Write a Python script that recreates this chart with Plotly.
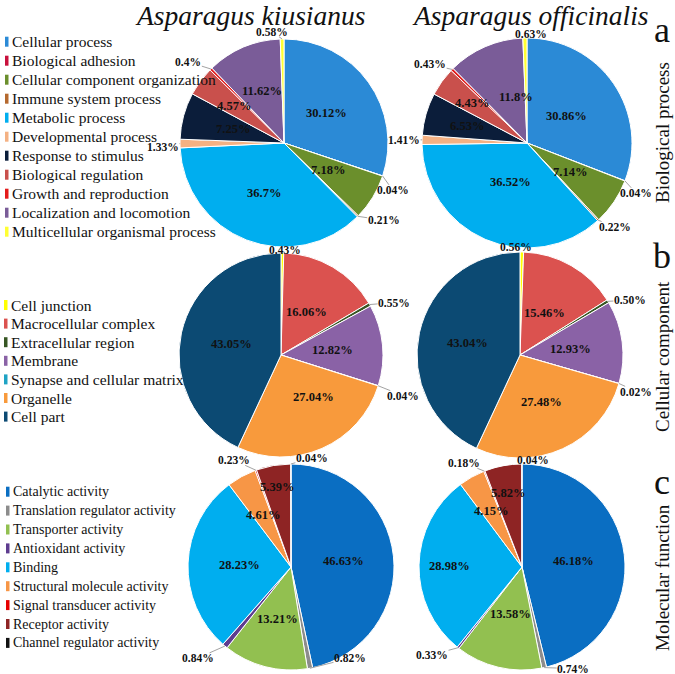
import math
import plotly.graph_objects as go

W, H = 675, 674
SERIF = "Liberation Serif"

# ---------------- data ----------------
species = ["Asparagus kiusianus", "Asparagus officinalis"]
panel_titles = ["Biological process", "Cellular component", "Molecular function"]
panel_letters = ["a", "b", "c"]

bp_labels = ["Cellular process", "Biological adhesion", "Cellular component organization",
             "Immune system process", "Metabolic process", "Developmental process",
             "Response to stimulus", "Biological regulation", "Growth and reproduction",
             "Localization and locomotion", "Multicellular organismal process"]
bp_kiusianus = [30.12, 0.04, 7.18, 0.21, 36.7, 1.33, 7.25, 4.57, 0.4, 11.62, 0.58]
bp_officinalis = [30.86, 0.04, 7.14, 0.22, 36.52, 1.41, 6.53, 4.43, 0.43, 11.8, 0.63]

cc_labels = ["Cell junction", "Macrocellular complex", "Extracellular region", "Membrane",
             "Synapse and cellular matrix", "Organelle", "Cell part"]
cc_kiusianus = [0.43, 16.06, 0.55, 12.82, 0.04, 27.04, 43.05]
cc_officinalis = [0.56, 15.46, 0.50, 12.93, 0.02, 27.48, 43.04]

mf_labels = ["Catalytic activity", "Translation regulator activity", "Transporter activity",
             "Antioxidant activity", "Binding", "Structural molecule activity",
             "Signal transducer activity", "Receptor activity", "Channel regulator activity"]
mf_kiusianus = [46.63, 0.82, 13.21, 0.84, 28.23, 4.61, 0.23, 5.39, 0.04]
mf_officinalis = [46.18, 0.74, 13.58, 0.33, 28.98, 4.15, 0.18, 5.82, 0.04]

# ---------------- styles ----------------
bp_colors = ["#2B8AD6", "#C8103C", "#6B8F2C", "#B5692E", "#00AEEF", "#F4B183",
             "#0B1D3A", "#C9504C", "#E41B1B", "#7A5C98", "#FFFF33"]
cc_colors = ["#FFFF00", "#DB524F", "#375623", "#8A62A6", "#1FA3C4", "#F89A3C", "#0C4A73"]
mf_colors = ["#0A6EC2", "#8C8C8C", "#92C050", "#5E3C8F", "#00AEEF", "#F79646",
             "#E60000", "#8E2424", "#111111"]

# label style per slice: (radial factor, dx px, dy px); factor >= 1 -> outside label
bp_k_style = [(0.50, 0, 0), (1, 10, 14), (0.50, 0, 0), (1, 26, 4), (0.52, 0, 0), (1, -17, 3),
              (0.51, 0, 0), (0.60, 0, 0), (1, -22.5, -7), (0.54, 0, 0), (1, -10, -7.5)]
bp_o_style = [(0.46, 0, 0), (1, 11, 12), (0.49, 0, 0), (1, 17, 6.5), (0.40, 0, 0), (1, -18, 0),
              (0.59, 0, 0), (0.65, 0, 0), (1, -22, -5), (0.45, 8, -3), (1, 6, -4)]
cc_k_style = [(1, 3, -3), (0.49, 0, 0), (1, 24.5, -2), (0.51, 0, 0), (1, 25, 10),
              (0.52, 11, -7), (0.50, 0, 0)]
cc_o_style = [(1, -6, -5), (0.47, 0, 0), (1, 22, -1), (0.49, 0, 0), (1, 17.5, 8),
              (0.50, 0, 0), (0.52, 0, 0)]
mf_k_style = [(0.51, 0, 0), (1, 40, -10), (0.52, 0, 0), (1, -27, 12), (0.50, 0, 0),
              (0.57, 0, 0), (1, -22, -10), (0.79, 0, 0), (1, 21, -6)]
mf_o_style = [(0.50, 0, 0), (1, 29, 1), (0.47, 0, 0), (1, -26, 7), (0.70, 0, 0),
              (0.62, 0, 0), (1, -20, -8), (0.73, 0, 0), (1, 11, -4)]

panels = [
    dict(labels=bp_labels, values=[bp_kiusianus, bp_officinalis], colors=bp_colors,
         fmt="{:g}%", geom=[(284, 143, 104), (527, 143, 105)], styles=[bp_k_style, bp_o_style],
         leg_x=10, leg_y0=41.7, leg_step=19, leg_fs=15.5, side_y=133, letter_y=30),
    dict(labels=cc_labels, values=[cc_kiusianus, cc_officinalis], colors=cc_colors,
         fmt="{:.2f}%", geom=[(281, 355, 102), (520, 355, 103)], styles=[cc_k_style, cc_o_style],
         leg_x=9, leg_y0=305, leg_step=18.6, leg_fs=15.5, side_y=357, letter_y=256),
    dict(labels=mf_labels, values=[mf_kiusianus, mf_officinalis], colors=mf_colors,
         fmt="{:.2f}%", geom=[(291, 567, 103), (522, 567, 103)], styles=[mf_k_style, mf_o_style],
         leg_x=11, leg_y0=491.7, leg_step=18.9, leg_fs=14, side_y=578, letter_y=481.5),
]


def px(x):
    return x / W


def py(y):
    return 1 - y / H


fig = go.Figure()
annotations = []
shapes = []

for p in panels:
    for k, vals in enumerate(p["values"]):
        cx, cy, r = p["geom"][k]
        fig.add_trace(go.Pie(
            values=vals, labels=p["labels"], sort=False, direction="clockwise", rotation=0,
            marker=dict(colors=p["colors"], line=dict(color="white", width=1)),
            textinfo="none", hoverinfo="label+value", showlegend=False,
            domain=dict(x=[px(cx - r), px(cx + r)], y=[py(cy + r), py(cy - r)]),
        ))
        total = sum(vals)
        cum = 0.0
        for i, v in enumerate(vals):
            mid = (cum + v / 2) / total
            cum += v
            th = 2 * math.pi * mid
            f, dx, dy = p["styles"][k][i]
            ex, ey = cx + r * math.sin(th), cy - r * math.cos(th)
            lx, ly = cx + f * r * math.sin(th) + dx, cy - f * r * math.cos(th) + dy
            txt = p["fmt"].format(v)
            outside = f >= 1
            fs = 11.5 if outside else 12.5
            annotations.append(dict(
                x=px(lx), y=py(ly), xref="paper", yref="paper", text="<b>" + txt + "</b>",
                showarrow=False, xanchor="center", yanchor="middle",
                font=dict(family=SERIF, size=fs, color="#111111")))
            if outside:
                vx, vy = lx - ex, ly - ey
                hw = len(txt) * 0.27 * fs + 1
                hh = 0.45 * fs
                s = min(hw / abs(vx) if abs(vx) > 1e-6 else 1e9,
                        hh / abs(vy) if abs(vy) > 1e-6 else 1e9)
                if s < 1:
                    x1, y1 = lx - s * vx, ly - s * vy
                    shapes.append(dict(type="line", xref="paper", yref="paper",
                                       x0=px(ex), y0=py(ey), x1=px(x1), y1=py(y1),
                                       line=dict(color="#8a8a8a", width=0.8)))

    # legend
    for j, lab in enumerate(p["labels"]):
        yy = p["leg_y0"] + j * p["leg_step"]
        annotations.append(dict(
            x=px(p["leg_x"]), y=py(yy), xref="paper", yref="paper", text=lab,
            showarrow=False, xanchor="left", yanchor="middle",
            font=dict(family=SERIF, size=p["leg_fs"], color="#111111")))
        shapes.append(dict(type="rect", xref="paper", yref="paper",
                           x0=px(p["leg_x"] - 5), x1=px(p["leg_x"] - 1.5),
                           y0=py(yy + 5), y1=py(yy - 5),
                           fillcolor=p["colors"][j], line=dict(width=0)))

# species titles
for name, xc in zip(species, [250, 530]):
    annotations.append(dict(x=px(xc), y=py(15.5), xref="paper", yref="paper",
                            text="<i>" + name + "</i>", showarrow=False,
                            xanchor="center", yanchor="middle",
                            font=dict(family=SERIF, size=27.5, color="#111111")))

# panel letters and side titles
for p, letter, title in zip(panels, panel_letters, panel_titles):
    annotations.append(dict(x=px(662), y=py(p["letter_y"]), xref="paper", yref="paper",
                            text=letter, showarrow=False, xanchor="center", yanchor="middle",
                            font=dict(family=SERIF, size=36, color="#111111")))
    annotations.append(dict(x=px(662), y=py(p["side_y"]), xref="paper", yref="paper",
                            text=title, showarrow=False, textangle=-90,
                            xanchor="center", yanchor="middle",
                            font=dict(family=SERIF, size=19, color="#111111")))

fig.update_layout(
    width=W, height=H, margin=dict(l=0, r=0, t=0, b=0),
    paper_bgcolor="white", plot_bgcolor="white",
    annotations=annotations, shapes=shapes, showlegend=False,
)

fig.write_html("out.html", config={"displayModeBar": False},
               post_script="document.body.style.margin='0px';")
